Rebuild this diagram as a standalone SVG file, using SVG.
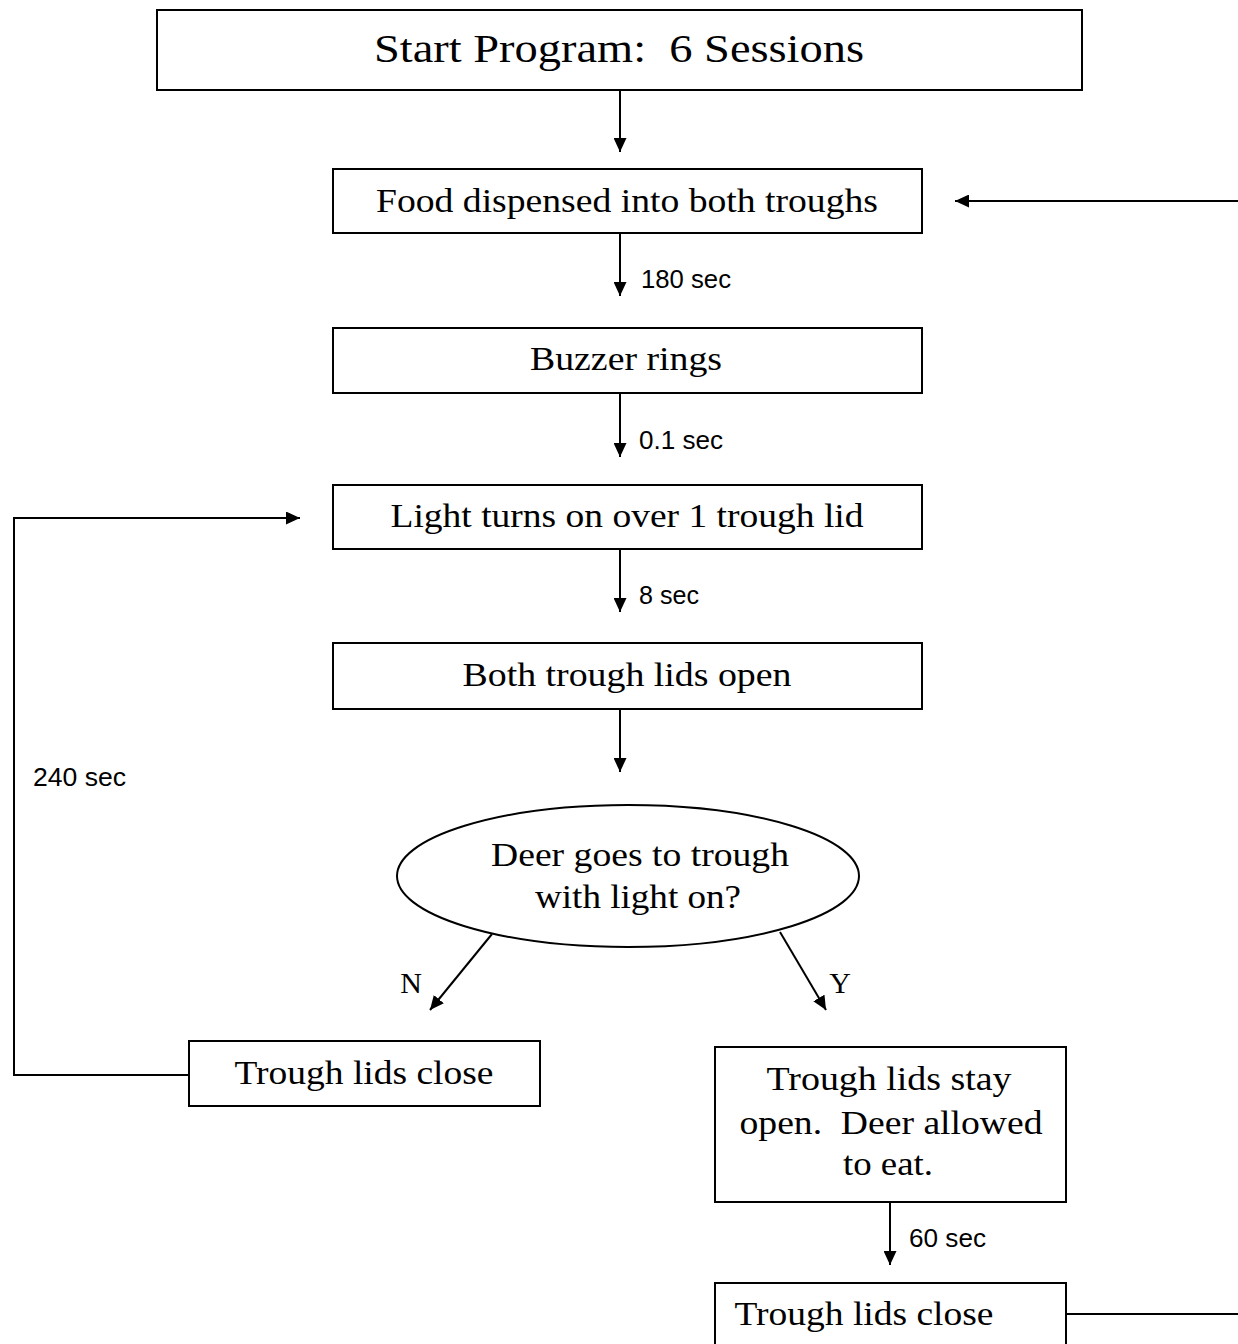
<svg xmlns="http://www.w3.org/2000/svg" width="1238" height="1344" viewBox="0 0 1238 1344">
<defs>
<marker id="ah" markerWidth="14" markerHeight="13" refX="14" refY="6.5" orient="auto" markerUnits="userSpaceOnUse">
<path d="M0,0 L14,6.5 L0,13 Z" fill="#000"/>
</marker>
<style>
.box{fill:#fff;stroke:#000;stroke-width:2}
.t{font-family:"Liberation Serif","Times New Roman",serif;fill:#000;text-anchor:middle;white-space:pre}
.n{font-size:33px}
.s{font-family:"Liberation Sans",Arial,sans-serif;font-size:26px;fill:#000}
.c{fill:none;stroke:#000;stroke-width:2}
</style>
</defs>
<rect width="1238" height="1344" fill="#fff"/>
<g id="connectors">
<line class="c" x1="620" y1="90" x2="620" y2="152" marker-end="url(#ah)"/>
<line class="c" x1="1238" y1="201" x2="955" y2="201" marker-end="url(#ah)"/>
<line class="c" x1="620" y1="233" x2="620" y2="296" marker-end="url(#ah)"/>
<text class="s" x="641" y="288" textLength="90" lengthAdjust="spacingAndGlyphs">180 sec</text>
<line class="c" x1="620" y1="393" x2="620" y2="457" marker-end="url(#ah)"/>
<text class="s" x="639" y="449" textLength="84" lengthAdjust="spacingAndGlyphs">0.1 sec</text>
<line class="c" x1="620" y1="549" x2="620" y2="612" marker-end="url(#ah)"/>
<text class="s" x="639" y="604" textLength="60" lengthAdjust="spacingAndGlyphs">8 sec</text>
<line class="c" x1="620" y1="709" x2="620" y2="772" marker-end="url(#ah)"/>
<line class="c" x1="492" y1="934" x2="430" y2="1010" marker-end="url(#ah)"/>
<text class="t" x="411" y="993" style="font-size:30px">N</text>
<line class="c" x1="780" y1="932" x2="826" y2="1010" marker-end="url(#ah)"/>
<text class="t" x="840" y="993" style="font-size:30px">Y</text>
<polyline class="c" points="189,1075 14,1075 14,518 300,518" marker-end="url(#ah)"/>
<text class="s" x="33" y="786" textLength="93" lengthAdjust="spacingAndGlyphs">240 sec</text>
<line class="c" x1="890" y1="1202" x2="890" y2="1265" marker-end="url(#ah)"/>
<text class="s" x="909" y="1247" textLength="77" lengthAdjust="spacingAndGlyphs">60 sec</text>
<line class="c" x1="1066" y1="1314" x2="1238" y2="1314"/>
</g>
<g id="start">
<rect class="box" x="157" y="10" width="925" height="80"/>
<text class="t" x="619" y="62" style="font-size:40px" textLength="490" lengthAdjust="spacingAndGlyphs" xml:space="preserve">Start Program:  6 Sessions</text>
</g>
<g id="food">
<rect class="box" x="333" y="169" width="589" height="64"/>
<text class="t n" x="627" y="212" textLength="502" lengthAdjust="spacingAndGlyphs">Food dispensed into both troughs</text>
</g>
<g id="buzzer">
<rect class="box" x="333" y="328" width="589" height="65"/>
<text class="t n" x="626" y="370" textLength="192" lengthAdjust="spacingAndGlyphs">Buzzer rings</text>
</g>
<g id="light">
<rect class="box" x="333" y="485" width="589" height="64"/>
<text class="t n" x="627" y="527" textLength="473" lengthAdjust="spacingAndGlyphs">Light turns on over 1 trough lid</text>
</g>
<g id="lids-open">
<rect class="box" x="333" y="643" width="589" height="66"/>
<text class="t n" x="627" y="686" textLength="329" lengthAdjust="spacingAndGlyphs">Both trough lids open</text>
</g>
<g id="decision">
<ellipse class="box" cx="628" cy="876" rx="231" ry="71"/>
<text class="t n" x="640" y="866" textLength="298" lengthAdjust="spacingAndGlyphs">Deer goes to trough</text>
<text class="t n" x="638" y="908" textLength="206" lengthAdjust="spacingAndGlyphs">with light on?</text>
</g>
<g id="close-left">
<rect class="box" x="189" y="1041" width="351" height="65"/>
<text class="t n" x="364" y="1084" textLength="259" lengthAdjust="spacingAndGlyphs">Trough lids close</text>
</g>
<g id="stay-open">
<rect class="box" x="715" y="1047" width="351" height="155"/>
<text class="t n" x="889" y="1090" textLength="245" lengthAdjust="spacingAndGlyphs">Trough lids stay</text>
<text class="t n" x="891" y="1134" textLength="303" lengthAdjust="spacingAndGlyphs" xml:space="preserve">open.  Deer allowed</text>
<text class="t n" x="888" y="1175" textLength="90" lengthAdjust="spacingAndGlyphs">to eat.</text>
</g>
<g id="close-bottom">
<rect class="box" x="715" y="1283" width="351" height="70"/>
<text class="t n" x="864" y="1325" textLength="259" lengthAdjust="spacingAndGlyphs">Trough lids close</text>
</g>
</svg>
